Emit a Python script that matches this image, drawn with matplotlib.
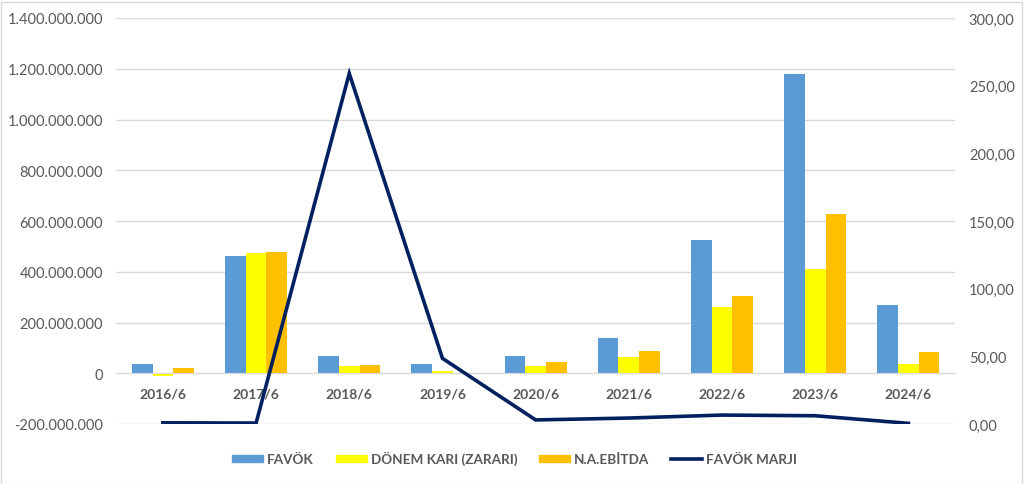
import matplotlib
matplotlib.use("Agg")
import matplotlib.pyplot as plt
from matplotlib.ticker import FuncFormatter, MultipleLocator
from matplotlib.patches import Rectangle
from matplotlib.lines import Line2D
import numpy as np

plt.rcParams['font.family'] = ['Lato', 'DejaVu Sans']

categories = ['2016/6', '2017/6', '2018/6', '2019/6', '2020/6', '2021/6', '2022/6', '2023/6', '2024/6']
favok = [38e6, 461e6, 68e6, 35e6, 68e6, 138e6, 527e6, 1179e6, 269e6]
donem_kari = [-11e6, 473e6, 29e6, 7e6, 29e6, 65e6, 260e6, 412e6, 38e6]
na_ebitda = [20e6, 477e6, 33e6, 0, 43e6, 89e6, 306e6, 629e6, 83e6]
favok_marji = [0.9, 0.7, 259.0, 48.5, 3.0, 4.4, 6.6, 6.1, 0.5]

C_BLUE = '#5B9BD5'
C_YEL = '#FFFF00'
C_ORA = '#FFC000'
C_LINE = '#002060'
C_TXT = '#595959'
C_GRID = '#D9D9D9'

fig = plt.figure(figsize=(10.24, 4.85), dpi=100)
ax = fig.add_axes([116.3/1024, 1-425/485, (955-116.3)/1024, (425-19)/485])
x = np.arange(len(categories))
w = 1/4.5

ax.bar(x - w, favok, w, color=C_BLUE, zorder=2)
ax.bar(x, donem_kari, w, color=C_YEL, zorder=2)
ax.bar(x + w, na_ebitda, w, color=C_ORA, zorder=2)

ax.set_xlim(-0.5, len(categories) - 0.5)
ax.set_ylim(-200e6, 1400e6)
ax.yaxis.set_major_locator(MultipleLocator(200e6))
ax.yaxis.set_major_formatter(FuncFormatter(lambda v, p: f"{int(round(v)):,}".replace(',', '.')))
ax.grid(axis='y', color=C_GRID, linewidth=1, zorder=0)
ax.set_axisbelow(True)
for s in ['top', 'right', 'left']:
    ax.spines[s].set_visible(False)
ax.spines['bottom'].set_position(('data', 0))
ax.spines['bottom'].set_color(C_GRID)
ax.set_xticks(x)
ax.set_xticklabels(categories, fontsize=10, fontweight='bold', color=C_TXT)
ax.tick_params(axis='x', length=0, pad=10)
ax.tick_params(axis='y', length=0, labelsize=10.5, labelcolor=C_TXT, pad=9.5)

ax2 = ax.twinx()
ax2.plot(x, favok_marji, color=C_LINE, linewidth=2.6, zorder=3, solid_joinstyle='miter')
ax2.set_ylim(0, 300)
ax2.yaxis.set_major_locator(MultipleLocator(50))
ax2.yaxis.set_major_formatter(FuncFormatter(lambda v, p: f"{v:.2f}".replace('.', ',')))
for s in ['top', 'right', 'left', 'bottom']:
    ax2.spines[s].set_visible(False)
ax2.tick_params(axis='y', length=0, labelsize=10.5, labelcolor=C_TXT, pad=10)

handles = [Rectangle((0, 0), 1, 1, color=C_BLUE),
           Rectangle((0, 0), 1, 1, color=C_YEL),
           Rectangle((0, 0), 1, 1, color=C_ORA),
           Line2D([0], [0], color=C_LINE, linewidth=2.6)]
labels = ['FAVÖK', 'DÖNEM KARI (ZARARI)', 'N.A.EBİTDA', 'FAVÖK MARJI']
leg = fig.legend(handles, labels, loc='center', bbox_to_anchor=(514.5/1024, 1-459/485),
                 ncol=4, frameon=False, handlelength=2.3, handleheight=0.45,
                 handletextpad=0.3, columnspacing=1.6,
                 prop={'family': ['Lato', 'DejaVu Sans'], 'weight': 'bold', 'size': 9.7})
for t in leg.get_texts():
    t.set_color(C_TXT)

fig.patches.append(Rectangle((0.5/1024, 0.5/485), 1-3/1024, 1-3/485, transform=fig.transFigure,
                             fill=False, edgecolor=C_GRID, linewidth=1))

fig.savefig('out.png', dpi=100, facecolor='white')
